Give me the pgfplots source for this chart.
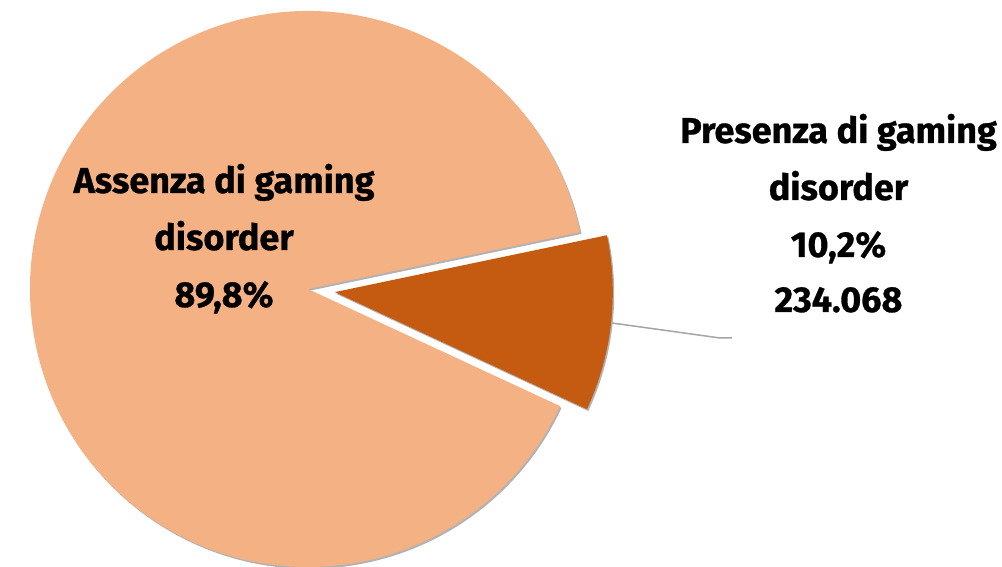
\documentclass[border=0pt]{standalone}
\usepackage{fontspec}
\setmainfont{Fira Sans}[BoldFeatures={FakeBold=0.8}]
\usepackage{pgfplots}
\pgfplotsset{compat=1.18}
\usepackage{pgfplotstable}
\usetikzlibrary{shadows,calc}
\definecolor{sliceA}{HTML}{F4B183}
\definecolor{sliceB}{HTML}{C55A11}
\definecolor{leader}{RGB}{165,165,165}

% share of each group, percent
\pgfplotstableread{
label    pct
Assenza  89.8
Presenza 10.2
}\piedata
\pgfplotstablegetelem{0}{pct}\of\piedata \let\pA\pgfplotsretval
\pgfplotstablegetelem{1}{pct}\of\piedata \let\pB\pgfplotsretval

\pgfmathsetmacro{\startA}{11.8}
\pgfmathsetmacro{\endA}{\startA+3.6*\pA}
\pgfmathsetmacro{\endB}{\endA+3.6*\pB}
\pgfmathsetmacro{\midB}{(\endA+\endB)/2}
\def\R{139pt}
\def\explode{13.5pt}

\begin{document}
\begin{tikzpicture}
\begin{axis}[
  x=0.5pt, y=0.5pt,
  xmin=0, xmax=1002, ymin=0, ymax=567,
  hide axis, clip=false,
  font=\bfseries\fontsize{18}{28}\selectfont,
]
% large slice
\fill[sliceA, drop shadow={shadow xshift=0.7pt, shadow yshift=-0.9pt, opacity=0.3, fill=black}]
  (axis cs:308,278) -- ++(\startA:\R) arc[start angle=\startA, end angle=\endA, radius=\R] -- cycle;
% small (exploded) slice
\fill[sliceB, drop shadow={shadow xshift=0.7pt, shadow yshift=-0.9pt, opacity=0.3, fill=black}]
  ($(axis cs:308,278)+(\midB:\explode)$) -- ++(\endA:\R) arc[start angle=\endA, end angle=\endB, radius=\R] -- cycle;
% leader line
\draw[leader, line width=0.75pt] (axis cs:612,244) -- (axis cs:720,229) -- (axis cs:732,229);
% labels
\node[anchor=base] at (axis cs:224,374) {Assenza di gaming};
\node[anchor=base] at (axis cs:224,317) {disorder};
\node[anchor=base] at (axis cs:224,260) {89,8\%};
\node[anchor=base] at (axis cs:838.5,424) {Presenza di gaming};
\node[anchor=base] at (axis cs:838.5,367) {disorder};
\node[anchor=base] at (axis cs:838.5,310) {10,2\%};
\node[anchor=base] at (axis cs:838.5,255) {234.068};
\end{axis}
\pgfresetboundingbox
\path (current axis.south west) rectangle (current axis.north east);
\end{tikzpicture}
\end{document}
